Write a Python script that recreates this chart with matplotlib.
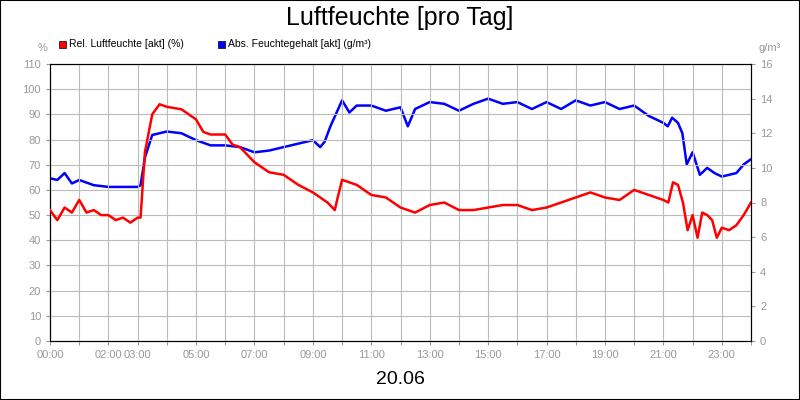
import matplotlib
matplotlib.use("Agg")
import matplotlib.pyplot as plt
from matplotlib.patches import Rectangle

plt.rcParams['font.family'] = ['Liberation Sans', 'DejaVu Sans']

rel_t = [0,0.25,0.5,0.75,1,1.25,1.5,1.75,2,2.25,2.5,2.75,3,3.1,3.25,3.5,3.75,4,4.5,5,5.25,5.5,6,6.25,6.5,7,7.25,7.5,8,8.25,8.5,9,9.25,9.5,9.75,9.85,10,10.5,11,11.5,12,12.5,13,13.5,14,14.5,15,15.5,16,16.5,17,17.5,18,18.5,19,19.5,20,20.5,21,21.17,21.33,21.5,21.67,21.83,22,22.17,22.33,22.5,22.67,22.83,23,23.25,23.5,23.75,24]
rel_v = [52,48,53,51,56,51,52,50,50,48,49,47,49,49,75,90,94,93,92,88,83,82,82,78,77,71,69,67,66,64,62,59,57,55,52,57,64,62,58,57,53,51,54,55,52,52,53,54,54,52,53,55,57,59,57,56,60,58,56,55,63,62,55,44,50,41,51,50,48,41,45,44,46,50,55]

abs_t = [0,0.25,0.5,0.75,1,1.5,2,2.5,3,3.1,3.25,3.5,4,4.5,5,5.5,6,6.5,7,7.5,8,8.5,9,9.25,9.4,9.6,10,10.25,10.5,11,11.5,12,12.25,12.5,13,13.5,14,14.5,15,15.5,16,16.5,17,17.5,18,18.5,19,19.5,20,20.5,21,21.15,21.3,21.5,21.65,21.8,22,22.25,22.5,22.75,23,23.25,23.5,23.75,24]
abs_v = [9.4,9.3,9.7,9.1,9.3,9.0,8.9,8.9,8.9,9.0,10.6,11.9,12.1,12.0,11.6,11.3,11.3,11.2,10.9,11.0,11.2,11.4,11.6,11.2,11.5,12.4,13.9,13.2,13.6,13.6,13.3,13.5,12.4,13.4,13.8,13.7,13.3,13.7,14.0,13.7,13.8,13.4,13.8,13.4,13.9,13.6,13.8,13.4,13.6,13.0,12.6,12.4,12.9,12.6,12.0,10.2,10.9,9.6,10.0,9.7,9.5,9.6,9.7,10.2,10.5]

xticks = [0,2,3,5,7,9,11,13,15,17,19,21,23]

fig = plt.figure(figsize=(8,4), dpi=100)
fig.patches.append(Rectangle((0,0),1,1,transform=fig.transFigure,fill=False,ec='black',lw=1.5))
ax = fig.add_axes([50/800, 1-341/400, 701/800, 277/400])
ax2 = ax.twinx()
gc = '#bbbbbb'
ax.plot(rel_t, rel_v, color='#ff0000', lw=1.8, zorder=3)
ax2.plot(abs_t, abs_v, color='#0000ff', lw=1.8)
ax.set_zorder(ax2.get_zorder()+1); ax.patch.set_visible(False)
ax.set_xlim(0,24); ax.set_ylim(0,110); ax2.set_ylim(0,16)
ax.set_yticks(range(0,111,10)); ax2.set_yticks(range(0,17,2))
ax.set_xticks(range(0,25))
ax.set_xticklabels([f"{h:02d}:00" if h in xticks else "" for h in range(25)])
ax.grid(True, color=gc, lw=0.8)
for a in (ax, ax2):
    a.tick_params(colors='#999999', labelsize=8, length=3)
    for s in a.spines.values(): s.set_color('black')
fig.text(0.5, 1-18/400, "Luftfeuchte [pro Tag]", ha='center', va='center', fontsize=18)
fig.text(0.5, 1-379/400, "20.06", ha='center', va='center', fontsize=14)
fig.text(43/800, 1-48/400, "%", ha='center', va='center', fontsize=8, color='#999999')
fig.text(770/800, 1-48/400, "g/m³", ha='center', va='center', fontsize=8, color='#999999')
fig.patches.append(Rectangle((59/800,1-48/400),7/800,7/400,transform=fig.transFigure,fc='#ff0000',ec='black',lw=0.5))
fig.text(69/800, 1-44/400, "Rel. Luftfeuchte [akt] (%)", va='center', fontsize=7.5)
fig.patches.append(Rectangle((218/800,1-48/400),7/800,7/400,transform=fig.transFigure,fc='#0000ff',ec='black',lw=0.5))
fig.text(228/800, 1-44/400, "Abs. Feuchtegehalt [akt] (g/m³)", va='center', fontsize=7.5)
fig.savefig("out.png", dpi=100)
